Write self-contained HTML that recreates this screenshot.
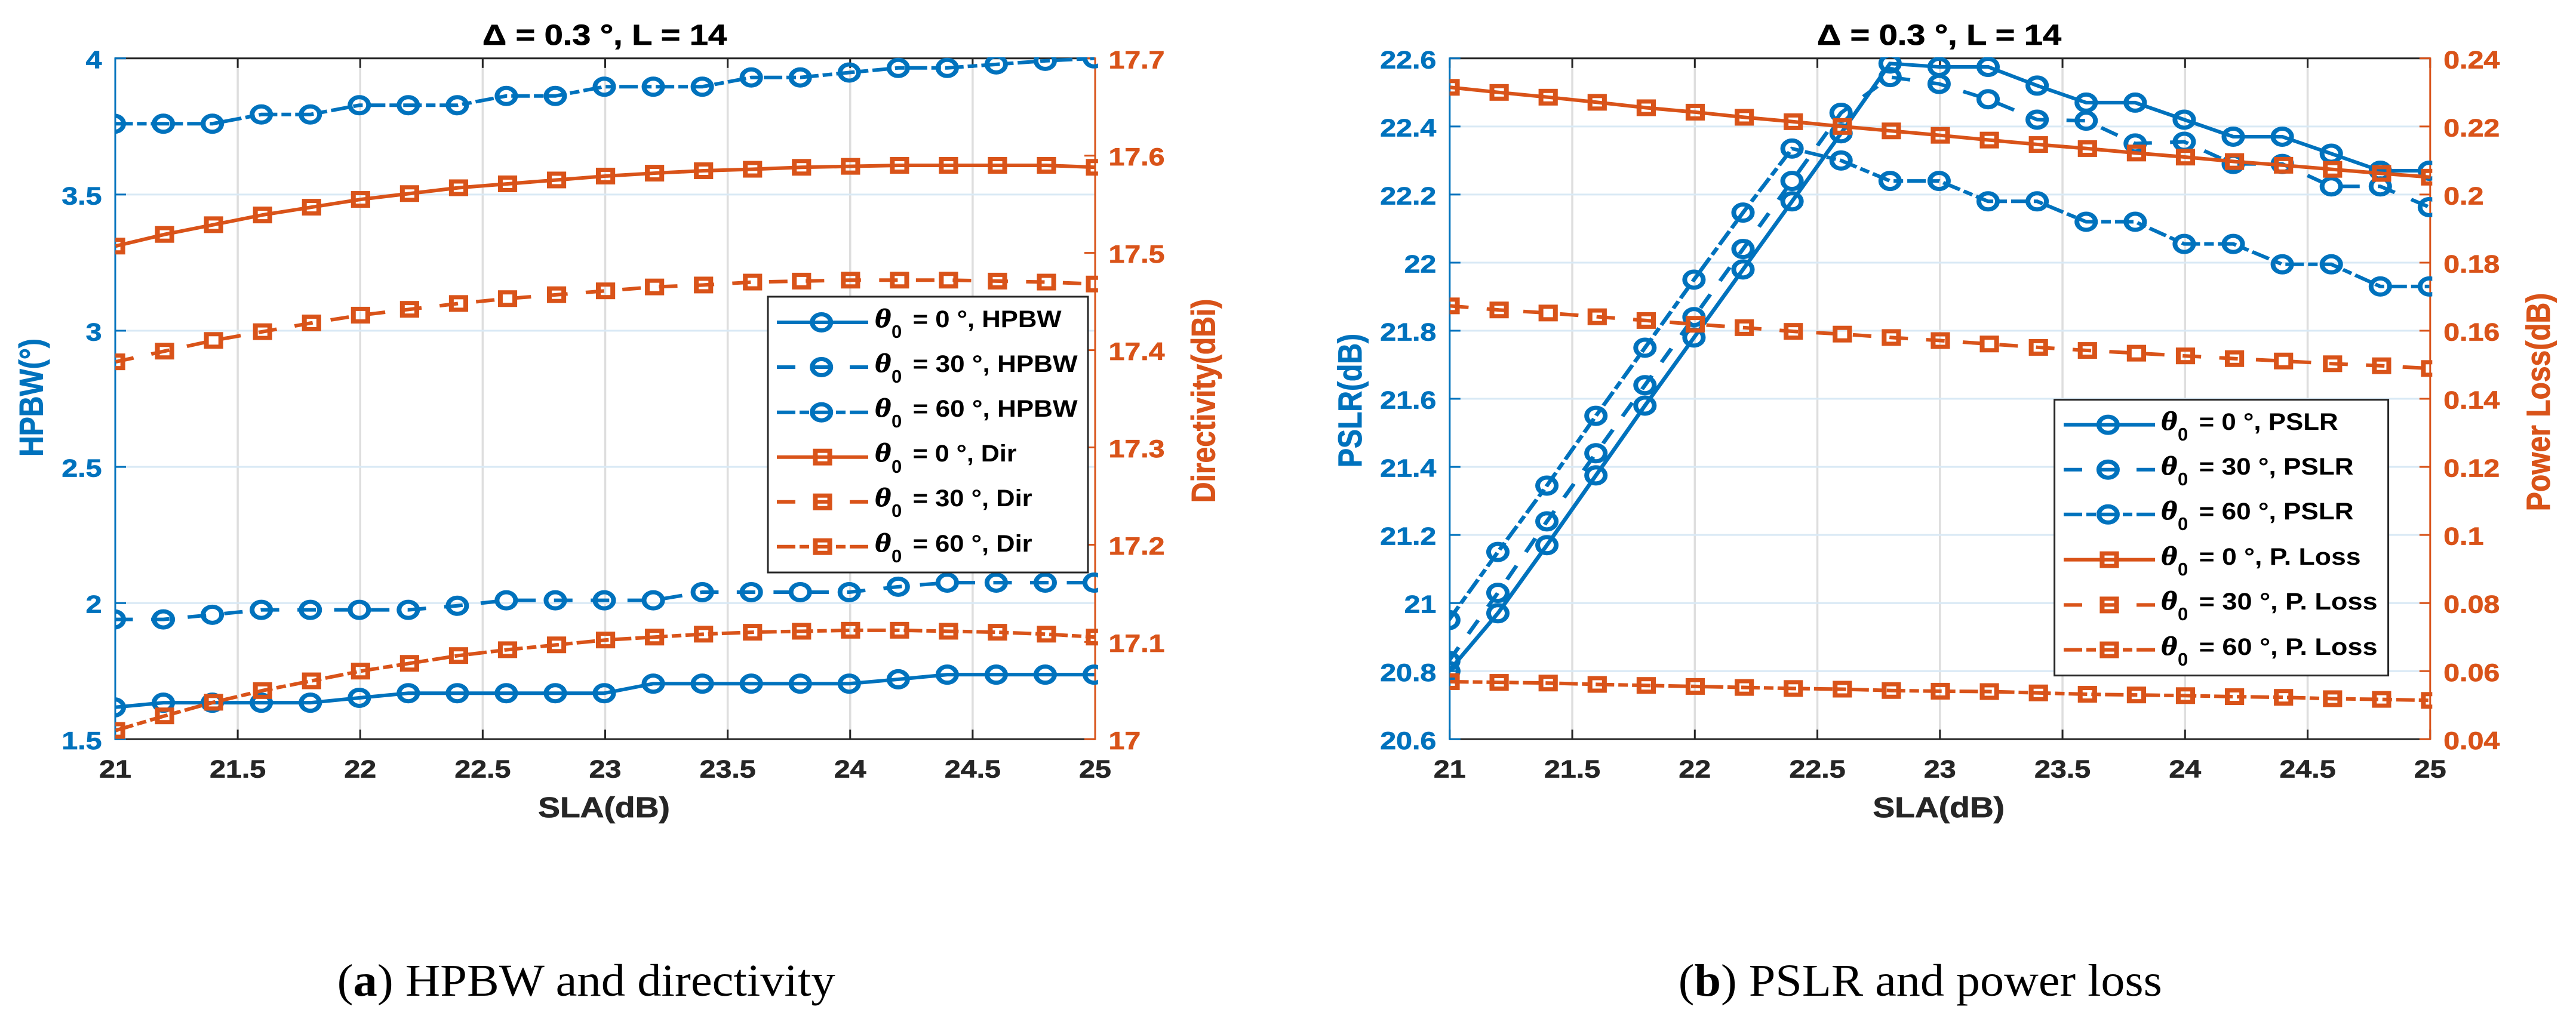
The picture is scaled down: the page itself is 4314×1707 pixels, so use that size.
<!DOCTYPE html>
<html lang="en">
<head>
<meta charset="utf-8">
<title>HPBW, directivity, PSLR and power loss versus SLA</title>
<style>
html,body{margin:0;padding:0;background:#fff;}
svg{display:block;}
text{font-family:"Liberation Sans",sans-serif;font-weight:bold;}
.serif{font-family:"Liberation Serif",serif;font-weight:normal;}
.th{font-family:"Liberation Serif",serif;font-weight:bold;font-style:italic;font-size:44px;fill:#000;stroke:#000;stroke-width:1;}
.sub{font-size:31px;fill:#000;font-weight:bold;}
.eq{font-size:40px;fill:#000;font-weight:bold;}
.heavy{stroke-width:0.8px;}
</style>
</head>
<body>
<svg id="fig" xmlns="http://www.w3.org/2000/svg" width="4314" height="1707" viewBox="0 0 4314 1707">
  <rect width="4314" height="1707" fill="#fff"/>
  <defs>
    <clipPath id="clip-a"><rect x="168" y="96" width="1431" height="1145" transform="scale(1.15 1)"/></clipPath>
    <clipPath id="clip-b"><rect x="2111" y="96" width="1431" height="1145" transform="scale(1.15 1)"/></clipPath>
  </defs>

  <g id="chart-a"></g>
  <g id="chart-b"></g>

  <text class="heavy" x="808" y="75" font-size="48" textLength="409" lengthAdjust="spacingAndGlyphs" fill="#000" stroke="#000">Δ = 0.3 °, L = 14</text>
  <text class="heavy" x="3043" y="75" font-size="48" textLength="409" lengthAdjust="spacingAndGlyphs" fill="#000" stroke="#000">Δ = 0.3 °, L = 14</text>

  <text class="heavy" transform="translate(1011.5,1369) scale(1.15,1)" text-anchor="middle" font-size="48" fill="#262626" stroke="#262626">SLA(dB)</text>
  <text class="heavy" transform="translate(3246.7,1369) scale(1.15,1)" text-anchor="middle" font-size="48" fill="#262626" stroke="#262626">SLA(dB)</text>

  <text class="heavy" transform="translate(71.5,666) scale(1.15,1) rotate(-90)" text-anchor="middle" font-size="48" fill="#0072BD" stroke="#0072BD">HPBW(°)</text>
  <text class="heavy" transform="translate(2034.7,671.5) scale(1.15,1) rotate(-90)" text-anchor="middle" font-size="48" fill="#D95319" stroke="#D95319">Directivity(dBi)</text>
  <text class="heavy" transform="translate(2279.8,671) scale(1.15,1) rotate(-90)" text-anchor="middle" font-size="48" fill="#0072BD" stroke="#0072BD">PSLR(dB)</text>
  <text class="heavy" transform="translate(4269.8,673.5) scale(1.15,1) rotate(-90)" text-anchor="middle" font-size="48" fill="#D95319" stroke="#D95319">Power Loss(dB)</text>

  <g>
    <rect x="1286" y="497" width="536" height="462" fill="#fff" stroke="#262626" stroke-width="3"/>

    <g>
      <line x1="1301" x2="1454" y1="540" y2="540" stroke="#0072BD" stroke-width="6"/>
      <circle r="13.5" transform="translate(1375.7,540) scale(1.15,1)" fill="none" stroke="#0072BD" stroke-width="7"/>
      <text class="th" x="1465" y="548" textLength="27" lengthAdjust="spacingAndGlyphs">θ</text><text class="sub" x="1493" y="566">0</text>
      <text class="eq" x="1528.6" y="548" textLength="249" lengthAdjust="spacingAndGlyphs">= 0 °, HPBW</text>
    </g>
    <g>
      <line x1="1301" x2="1454" y1="615" y2="615" stroke="#0072BD" stroke-width="6" stroke-dasharray="31 30"/>
      <circle r="13.5" transform="translate(1375.7,615) scale(1.15,1)" fill="none" stroke="#0072BD" stroke-width="7"/>
      <text class="th" x="1465" y="623" textLength="27" lengthAdjust="spacingAndGlyphs">θ</text><text class="sub" x="1493" y="641">0</text>
      <text class="eq" x="1528.6" y="623" textLength="276" lengthAdjust="spacingAndGlyphs">= 30 °, HPBW</text>
    </g>
    <g>
      <line x1="1301" x2="1454" y1="690.7" y2="690.7" stroke="#0072BD" stroke-width="6" stroke-dasharray="31 7 16 7"/>
      <circle r="13.5" transform="translate(1375.7,690.7) scale(1.15,1)" fill="none" stroke="#0072BD" stroke-width="7"/>
      <text class="th" x="1465" y="698" textLength="27" lengthAdjust="spacingAndGlyphs">θ</text><text class="sub" x="1493" y="716">0</text>
      <text class="eq" x="1528.6" y="698" textLength="276" lengthAdjust="spacingAndGlyphs">= 60 °, HPBW</text>
    </g>
    <g>
      <line x1="1301" x2="1454" y1="765.7" y2="765.7" stroke="#D95319" stroke-width="6"/>
      <rect x="-10.5" y="-10.5" width="21" height="21" transform="translate(1377.5,765.7) scale(1.15,1)" fill="none" stroke="#D95319" stroke-width="7"/>
      <text class="th" x="1465" y="773" textLength="27" lengthAdjust="spacingAndGlyphs">θ</text><text class="sub" x="1493" y="792">0</text>
      <text class="eq" x="1528.6" y="773" textLength="174" lengthAdjust="spacingAndGlyphs">= 0 °, Dir</text>
    </g>
    <g>
      <line x1="1301" x2="1454" y1="840.7" y2="840.7" stroke="#D95319" stroke-width="6" stroke-dasharray="31 30"/>
      <rect x="-10.5" y="-10.5" width="21" height="21" transform="translate(1377.5,840.7) scale(1.15,1)" fill="none" stroke="#D95319" stroke-width="7"/>
      <text class="th" x="1465" y="848" textLength="27" lengthAdjust="spacingAndGlyphs">θ</text><text class="sub" x="1493" y="866">0</text>
      <text class="eq" x="1528.6" y="848" textLength="200" lengthAdjust="spacingAndGlyphs">= 30 °, Dir</text>
    </g>
    <g>
      <line x1="1301" x2="1454" y1="915.7" y2="915.7" stroke="#D95319" stroke-width="6" stroke-dasharray="31 7 16 7"/>
      <rect x="-10.5" y="-10.5" width="21" height="21" transform="translate(1377.5,915.7) scale(1.15,1)" fill="none" stroke="#D95319" stroke-width="7"/>
      <text class="th" x="1465" y="924" textLength="27" lengthAdjust="spacingAndGlyphs">θ</text><text class="sub" x="1493" y="942">0</text>
      <text class="eq" x="1528.6" y="924" textLength="200" lengthAdjust="spacingAndGlyphs">= 60 °, Dir</text>
    </g>
  </g>

  <g>
    <rect x="3440.6" y="669.6" width="559" height="462" fill="#fff" stroke="#262626" stroke-width="3"/>

    <g>
      <line x1="3456" x2="3609" y1="711.6" y2="711.6" stroke="#0072BD" stroke-width="6"/>
      <circle r="13.5" transform="translate(3530.4,711.6) scale(1.15,1)" fill="none" stroke="#0072BD" stroke-width="7"/>
      <text class="th" x="3619" y="720" textLength="27" lengthAdjust="spacingAndGlyphs">θ</text><text class="sub" x="3647" y="738">0</text>
      <text class="eq" x="3682.6" y="720" textLength="233" lengthAdjust="spacingAndGlyphs">= 0 °, PSLR</text>
    </g>
    <g>
      <line x1="3456" x2="3609" y1="786.7" y2="786.7" stroke="#0072BD" stroke-width="6" stroke-dasharray="31 30"/>
      <circle r="13.5" transform="translate(3530.4,786.7) scale(1.15,1)" fill="none" stroke="#0072BD" stroke-width="7"/>
      <text class="th" x="3619" y="795" textLength="27" lengthAdjust="spacingAndGlyphs">θ</text><text class="sub" x="3647" y="813">0</text>
      <text class="eq" x="3682.6" y="795" textLength="259" lengthAdjust="spacingAndGlyphs">= 30 °, PSLR</text>
    </g>
    <g>
      <line x1="3456" x2="3609" y1="861.8" y2="861.8" stroke="#0072BD" stroke-width="6" stroke-dasharray="31 7 16 7"/>
      <circle r="13.5" transform="translate(3530.4,861.8) scale(1.15,1)" fill="none" stroke="#0072BD" stroke-width="7"/>
      <text class="th" x="3619" y="870" textLength="27" lengthAdjust="spacingAndGlyphs">θ</text><text class="sub" x="3647" y="888">0</text>
      <text class="eq" x="3682.6" y="870" textLength="259" lengthAdjust="spacingAndGlyphs">= 60 °, PSLR</text>
    </g>
    <g>
      <line x1="3456" x2="3609" y1="937.6" y2="937.6" stroke="#D95319" stroke-width="6"/>
      <rect x="-10.5" y="-10.5" width="21" height="21" transform="translate(3532.5,937.6) scale(1.15,1)" fill="none" stroke="#D95319" stroke-width="7"/>
      <text class="th" x="3619" y="946" textLength="27" lengthAdjust="spacingAndGlyphs">θ</text><text class="sub" x="3647" y="964">0</text>
      <text class="eq" x="3682.6" y="946" textLength="271" lengthAdjust="spacingAndGlyphs">= 0 °, P. Loss</text>
    </g>
    <g>
      <line x1="3456" x2="3609" y1="1013.4" y2="1013.4" stroke="#D95319" stroke-width="6" stroke-dasharray="31 30"/>
      <rect x="-10.5" y="-10.5" width="21" height="21" transform="translate(3532.5,1013.4) scale(1.15,1)" fill="none" stroke="#D95319" stroke-width="7"/>
      <text class="th" x="3619" y="1021" textLength="27" lengthAdjust="spacingAndGlyphs">θ</text><text class="sub" x="3647" y="1039">0</text>
      <text class="eq" x="3682.6" y="1021" textLength="299" lengthAdjust="spacingAndGlyphs">= 30 °, P. Loss</text>
    </g>
    <g>
      <line x1="3456" x2="3609" y1="1088.6" y2="1088.6" stroke="#D95319" stroke-width="6" stroke-dasharray="31 7 16 7"/>
      <rect x="-10.5" y="-10.5" width="21" height="21" transform="translate(3532.5,1088.6) scale(1.15,1)" fill="none" stroke="#D95319" stroke-width="7"/>
      <text class="th" x="3619" y="1097" textLength="27" lengthAdjust="spacingAndGlyphs">θ</text><text class="sub" x="3647" y="1115">0</text>
      <text class="eq" x="3682.6" y="1097" textLength="299" lengthAdjust="spacingAndGlyphs">= 60 °, P. Loss</text>
    </g>
  </g>

  <text class="serif" x="564.7" y="1668" font-size="76" textLength="834" lengthAdjust="spacingAndGlyphs" fill="#000">(<tspan font-weight="bold">a</tspan>) HPBW and directivity</text>
  <text class="serif" x="2810.8" y="1668" font-size="76" textLength="810" lengthAdjust="spacingAndGlyphs" fill="#000">(<tspan font-weight="bold">b</tspan>) PSLR and power loss</text>
</svg>

<script>
// Shared x categories
const slaValues = [21,21.2,21.4,21.6,21.8,22,22.2,22.4,22.6,22.8,23,23.2,23.4,23.6,23.8,24,24.2,24.4,24.6,24.8,25];

// Chart (a) series
const hpbw0  = [1.617,1.634,1.634,1.634,1.634,1.652,1.669,1.669,1.669,1.669,1.669,1.704,1.704,1.704,1.704,1.704,1.72,1.737,1.737,1.737,1.737];
const hpbw30 = [1.94,1.94,1.957,1.975,1.975,1.975,1.975,1.99,2.01,2.01,2.01,2.01,2.04,2.04,2.04,2.04,2.06,2.075,2.075,2.075,2.075];
const hpbw60 = [3.76,3.76,3.76,3.794,3.794,3.828,3.828,3.828,3.862,3.862,3.896,3.896,3.896,3.93,3.93,3.948,3.965,3.965,3.978,3.991,4.0];
const dir0   = [17.507,17.519,17.529,17.539,17.547,17.555,17.561,17.567,17.571,17.575,17.579,17.582,17.5845,17.586,17.588,17.589,17.59,17.59,17.59,17.59,17.588];
const dir30  = [17.388,17.399,17.41,17.419,17.428,17.436,17.442,17.448,17.453,17.457,17.461,17.465,17.467,17.47,17.471,17.472,17.472,17.472,17.471,17.47,17.468];
const dir60  = [17.009,17.024,17.038,17.05,17.06,17.07,17.078,17.086,17.092,17.097,17.102,17.105,17.108,17.11,17.111,17.112,17.112,17.111,17.11,17.108,17.105];

// Chart (b) series
const pslr0  = [20.8,20.97,21.17,21.375,21.58,21.78,21.98,22.18,22.38,22.585,22.575,22.575,22.52,22.47,22.47,22.42,22.37,22.37,22.32,22.27,22.27];
const pslr30 = [20.83,21.03,21.24,21.44,21.64,21.84,22.04,22.24,22.44,22.545,22.525,22.48,22.42,22.417,22.35,22.355,22.29,22.29,22.224,22.224,22.163];
const pslr60 = [20.95,21.15,21.345,21.55,21.75,21.95,22.147,22.335,22.30,22.24,22.24,22.18,22.18,22.12,22.12,22.055,22.055,21.995,21.995,21.93,21.93];
const loss0  = [0.2315,0.23,0.2286,0.2271,0.2255,0.2242,0.2227,0.2214,0.22,0.2187,0.2174,0.216,0.2147,0.2135,0.2122,0.211,0.2097,0.2086,0.2074,0.2062,0.2051];
const loss30 = [0.1673,0.1661,0.1652,0.1641,0.163,0.1619,0.1609,0.1598,0.159,0.158,0.1571,0.1561,0.1551,0.1542,0.1534,0.1526,0.1518,0.1511,0.1503,0.1497,0.1489];
const loss60 = [0.0569,0.0567,0.0565,0.0561,0.0558,0.0555,0.0552,0.0549,0.0547,0.0543,0.0541,0.054,0.0536,0.0532,0.053,0.0528,0.0525,0.0523,0.0519,0.0517,0.0514];

// Tick labels
const xTickLabels = ['21','21.5','22','22.5','23','23.5','24','24.5','25'];
const hpbwTickLabels = ['1.5','2','2.5','3','3.5','4'];
const dirTickLabels = ['17','17.1','17.2','17.3','17.4','17.5','17.6','17.7'];
const pslrTickLabels = ['20.6','20.8','21','21.2','21.4','21.6','21.8','22','22.2','22.4','22.6'];
const lossTickLabels = ['0.04','0.06','0.08','0.1','0.12','0.14','0.16','0.18','0.2','0.22','0.24'];

const NS = 'http://www.w3.org/2000/svg';
const BLUE = '#0072BD', ORANGE = '#D95319', DARK = '#262626';
const STRETCH = 1.15;
const TOP = 97.8, BOTTOM = 1238.3;
const DASHES = { solid: null, dashed: '27 26.5', dashdot: '27 6 14 6' };

function node(parent, tag, attrs) {
  const el = document.createElementNS(NS, tag);
  for (const k in attrs) el.setAttribute(k, attrs[k]);
  parent.appendChild(el);
  return el;
}

function makeLinear(d0, d1, r0, r1) {
  return v => r0 + (v - d0) / (d1 - d0) * (r1 - r0);
}

function tickText(parent, x, y, str, anchor, color) {
  const el = node(parent, 'text', {
    transform: 'translate(' + x + ',' + y + ') scale(' + STRETCH + ',1)',
    'text-anchor': anchor, 'font-size': 42, fill: color, stroke: color, 'stroke-width': 0.7
  });
  el.textContent = str;
  return el;
}

function drawAxes(root, key, L, R, xScale, yL, yR, leftLabels, rightLabels) {
  const grid = node(root, 'g', {});
  
  
  xTickLabels.forEach(lab => {
    const x = xScale(parseFloat(lab));
    if (x > L + 1 && x < R - 1) {
      const g = node(grid, 'line', { x1: x, x2: x, y1: TOP, y2: BOTTOM, stroke: '#dedede', 'stroke-width': 3.5 });
      
      
    }
  });
  leftLabels.forEach(lab => {
    const y = yL(parseFloat(lab));
    if (y > TOP + 1 && y < BOTTOM - 1) {
      const g = node(grid, 'line', { x1: L, x2: R, y1: y, y2: y, stroke: '#d9e9f5', 'stroke-width': 3 });
      
      
    }
  });

  const frame = node(root, 'g', {});
  
  
  const top = node(frame, 'line', { x1: L, x2: R, y1: TOP, y2: TOP, stroke: DARK, 'stroke-width': 3 });
  
  
  const bottom = node(frame, 'line', { x1: L, x2: R, y1: BOTTOM, y2: BOTTOM, stroke: DARK, 'stroke-width': 3 });
  
  

  xTickLabels.forEach(lab => {
    const x = xScale(parseFloat(lab));
    const t1 = node(frame, 'line', { x1: x, x2: x, y1: BOTTOM, y2: BOTTOM - 16, stroke: DARK, 'stroke-width': 3 });
    
    
    const t2 = node(frame, 'line', { x1: x, x2: x, y1: TOP, y2: TOP + 16, stroke: DARK, 'stroke-width': 3 });
    
    
    const tl = tickText(frame, x, 1302.4, lab, 'middle', DARK);
    
    
  });

  const la = node(frame, 'line', { x1: L, x2: L, y1: TOP - 1.5, y2: BOTTOM + 1.5, stroke: BLUE, 'stroke-width': 3 });
  
  
  leftLabels.forEach(lab => {
    const y = yL(parseFloat(lab));
    const t = node(frame, 'line', { x1: L, x2: L + 18, y1: y, y2: y, stroke: BLUE, 'stroke-width': 3 });
    
    
    const tl = tickText(frame, L - 22.5, y + 16.5, lab, 'end', BLUE);
    
    
  });

  const ra = node(frame, 'line', { x1: R, x2: R, y1: TOP - 1.5, y2: BOTTOM + 1.5, stroke: ORANGE, 'stroke-width': 3 });
  
  
  rightLabels.forEach(lab => {
    const y = yR(parseFloat(lab));
    const t = node(frame, 'line', { x1: R, x2: R - 18, y1: y, y2: y, stroke: ORANGE, 'stroke-width': 3 });
    
    
    const tl = tickText(frame, R + 22.5, y + 16.5, lab, 'start', ORANGE);
    
    
  });
}

// Marks are drawn in an unstretched space; the parent group applies the 1.15 horizontal stretch.
function drawSeries(layer, name, values, xScale, yScale, color, marker, dash, dx) {
  const g = node(layer, 'g', {});
  
  
  const pts = values.map((v, i) => [(xScale(slaValues[i]) + dx) / STRETCH, yScale(v)]);
  const attrs = {
    points: pts.map(p => p[0].toFixed(2) + ',' + p[1].toFixed(2)).join(' '),
    fill: 'none', stroke: color, 'stroke-width': 6, 'stroke-linejoin': 'miter'
  };
  if (DASHES[dash]) attrs['stroke-dasharray'] = DASHES[dash];
  const line = node(g, 'polyline', attrs);
  
  
  pts.forEach(p => {
    let m;
    if (marker === 'circle') {
      m = node(g, 'circle', { cx: p[0], cy: p[1], r: 13.5, fill: 'none', stroke: color, 'stroke-width': 7 });
    } else {
      m = node(g, 'rect', { x: p[0] - 10.5, y: p[1] - 10.5, width: 21, height: 21, fill: 'none', stroke: color, 'stroke-width': 7 });
    }
    
    
  });
}

// Chart (a)
const rootA = document.getElementById('chart-a');
const xA = makeLinear(21, 25, 193, 1834);
const yHpbw = makeLinear(1.5, 4, BOTTOM, TOP);
const yDir = makeLinear(17, 17.7, BOTTOM, TOP);
drawAxes(rootA, 'chart-a', 193, 1834, xA, yHpbw, yDir, hpbwTickLabels, dirTickLabels);
const layerA = node(rootA, 'g', { 'clip-path': 'url(#clip-a)' });
const marksA = node(layerA, 'g', { transform: 'scale(' + STRETCH + ' 1)' });


drawSeries(marksA, 'hpbw-0', hpbw0, xA, yHpbw, BLUE, 'circle', 'solid', -1.5);
drawSeries(marksA, 'hpbw-30', hpbw30, xA, yHpbw, BLUE, 'circle', 'dashed', -1.5);
drawSeries(marksA, 'hpbw-60', hpbw60, xA, yHpbw, BLUE, 'circle', 'dashdot', -1.5);
drawSeries(marksA, 'dir-0', dir0, xA, yDir, ORANGE, 'square', 'solid', 0.6);
drawSeries(marksA, 'dir-30', dir30, xA, yDir, ORANGE, 'square', 'dashed', 0.6);
drawSeries(marksA, 'dir-60', dir60, xA, yDir, ORANGE, 'square', 'dashdot', 0.6);

// Chart (b)
const rootB = document.getElementById('chart-b');
const xB = makeLinear(21, 25, 2427.8, 4069.8);
const yPslr = makeLinear(20.6, 22.6, BOTTOM, TOP);
const yLoss = makeLinear(0.04, 0.24, BOTTOM, TOP);
drawAxes(rootB, 'chart-b', 2427.8, 4069.8, xB, yPslr, yLoss, pslrTickLabels, lossTickLabels);
const layerB = node(rootB, 'g', { 'clip-path': 'url(#clip-b)' });
const marksB = node(layerB, 'g', { transform: 'scale(' + STRETCH + ' 1)' });


drawSeries(marksB, 'pslr-0', pslr0, xB, yPslr, BLUE, 'circle', 'solid', -1.4);
drawSeries(marksB, 'pslr-30', pslr30, xB, yPslr, BLUE, 'circle', 'dashed', -1.4);
drawSeries(marksB, 'pslr-60', pslr60, xB, yPslr, BLUE, 'circle', 'dashdot', -1.4);
drawSeries(marksB, 'loss-0', loss0, xB, yLoss, ORANGE, 'square', 'solid', 0.7);
drawSeries(marksB, 'loss-30', loss30, xB, yLoss, ORANGE, 'square', 'dashed', 0.7);
drawSeries(marksB, 'loss-60', loss60, xB, yLoss, ORANGE, 'square', 'dashdot', 0.7);
</script>
</body>
</html>
